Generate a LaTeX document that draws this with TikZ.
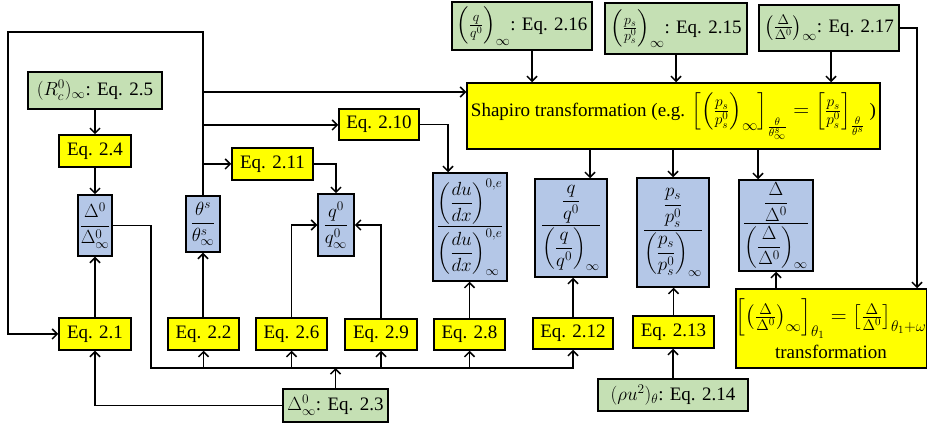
\RequirePackage{fix-cm}
\documentclass[tikz,border=0pt]{standalone}
\usepackage{amsmath}
\usepackage{fontspec}
\setmainfont{Liberation Serif}
\usetikzlibrary{arrows.meta}
\definecolor{grn}{RGB}{197,224,180}
\definecolor{blu}{RGB}{180,199,231}
\definecolor{yel}{RGB}{255,255,0}
% larger math for the inline fractions
\newcommand{\bigmath}[1]{{\fontsize{22}{24}\selectfont$#1$}}
\newcommand{\midmath}[1]{{\fontsize{20}{22}\selectfont$#1$}}
\begin{document}
\begin{tikzpicture}[x=1pt,y=-1pt,
  box/.style={draw=black, line width=1.5pt, inner sep=0pt, align=center,
              font=\fontsize{19}{21}\selectfont},
  grnbox/.style={box, fill=grn},
  yelbox/.style={box, fill=yel},
  blubox/.style={box, fill=blu},
  conn/.style={line width=1.5pt, -{Straight Barb[length=5pt,width=10pt]}}]
\useasboundingbox (0,0) rectangle (927,427);

% input boxes (green)
\node[grnbox, minimum width=134pt, minimum height=37pt] (rc) at (95,90.5) {$(R_c^0)_\infty$: Eq. 2.5};
\node[grnbox, minimum width=140pt, minimum height=48pt] (qinf) at (522,26) {\midmath{\left(\frac{q}{q^0}\right)_{\infty}}: Eq. 2.16};
\node[grnbox, minimum width=142pt, minimum height=51pt] (psinf) at (676,28.5) {\midmath{\left(\frac{p_s}{p_s^0}\right)_{\infty}}: Eq. 2.15};
\node[grnbox, minimum width=140pt, minimum height=46pt] (dinfb) at (829,28) {\midmath{\left(\frac{\Delta}{\Delta^0}\right)_{\infty}}: Eq. 2.17};
\node[grnbox, minimum width=105pt, minimum height=33pt] (dinf) at (335.5,405.5) {$\Delta^0_\infty$: Eq. 2.3};
\node[grnbox, minimum width=150pt, minimum height=32pt] (rho) at (673,395) {$(\rho u^2)_\theta$: Eq. 2.14};

% equation boxes (yellow)
\node[yelbox, minimum width=72pt, minimum height=32pt] (e24) at (95,151) {Eq. 2.4};
\node[yelbox, minimum width=81pt, minimum height=32pt] (e211) at (272.5,164) {Eq. 2.11};
\node[yelbox, minimum width=80pt, minimum height=31pt] (e210) at (379,124.5) {Eq. 2.10};
\node[yelbox, minimum width=72pt, minimum height=32pt] (e21) at (95,334) {Eq. 2.1};
\node[yelbox, minimum width=71pt, minimum height=32pt] (e22) at (203.5,334) {Eq. 2.2};
\node[yelbox, minimum width=71pt, minimum height=32pt] (e26) at (291.5,334) {Eq. 2.6};
\node[yelbox, minimum width=72pt, minimum height=31pt] (e29) at (381,334.5) {Eq. 2.9};
\node[yelbox, minimum width=71pt, minimum height=31pt] (e28) at (469.5,334.5) {Eq. 2.8};
\node[yelbox, minimum width=80pt, minimum height=31pt] (e212) at (573,333.5) {Eq. 2.12};
\node[yelbox, minimum width=81pt, minimum height=32pt] (e213) at (673.5,332) {Eq. 2.13};
\node[yelbox, minimum width=413pt, minimum height=66pt] (sh) at (673.5,116)
  {Shapiro transformation (e.g. \bigmath{\left[\left(\frac{p_s}{p_s^0}\right)_{\infty}\right]_{\frac{\theta}{\theta^s_\infty}} = \left[\frac{p_s}{p_s^0}\right]_{\frac{\theta}{\theta^s}}} )};
\node[yelbox, minimum width=190pt, minimum height=79pt] (tr) at (831,328.5)
  {\bigmath{\left[\left(\frac{\Delta}{\Delta^0}\right)_{\infty}\right]_{\theta_1} = \left[\frac{\Delta}{\Delta^0}\right]_{\theta_1+\omega}}\\[5pt] transformation};

% normalised quantities (blue)
\node[blubox, minimum width=34pt, minimum height=61pt] (d0) at (95,225.5) {$\dfrac{\Delta^0}{\Delta^0_\infty}$};
\node[blubox, minimum width=34pt, minimum height=56pt] (ts) at (203,224) {$\dfrac{\theta^s}{\theta^s_\infty}$};
\node[blubox, minimum width=36pt, minimum height=62pt] (q0) at (336,225) {$\dfrac{q^0}{q^0_\infty}$};
\node[blubox, minimum width=74pt, minimum height=108pt] (du) at (470,227)
  {$\dfrac{\left(\dfrac{du}{dx}\right)^{0,e}}{\left(\dfrac{du}{dx}\right)^{0,e}_{\infty}}$};
\node[blubox, minimum width=72pt, minimum height=98pt] (qq) at (571,228)
  {$\dfrac{\dfrac{q}{q^0}}{\left(\dfrac{q}{q^0}\right)_{\infty}}$};
\node[blubox, minimum width=72pt, minimum height=109pt] (ps) at (673,232.5)
  {$\dfrac{\dfrac{p_s}{p_s^0}}{\left(\dfrac{p_s}{p_s^0}\right)_{\infty}}$};
\node[blubox, minimum width=74pt, minimum height=91pt] (dd) at (776,225.5)
  {$\dfrac{\dfrac{\Delta}{\Delta^0}}{\left(\dfrac{\Delta}{\Delta^0}\right)_{\infty}}$};

% junction points
\coordinate (lp) at (8,32);
\coordinate (j1) at (203,92);
\coordinate (j2) at (203,125);
\coordinate (j3) at (203,164);
\coordinate (busL) at (151,368);

% left column
\draw[conn] (rc.south) -- (e24.north);
\draw[conn] (e24.south) -- (d0.north);
\draw[conn] (e21.north) -- (d0.south);
\draw[conn] (e22.north -| ts.south) -- (ts.south);
\draw[conn] (ts.north) |- (lp) |- (e21.west);
\draw[conn] (j1) -- (j1 -| sh.west);
\draw[conn] (j2) -- (j2 -| e210.west);
\draw[conn] (j3) -- (j3 -| e211.west);

% middle
\draw[conn] (e211.east) -| (q0.north);
\draw[conn] (e210.east) -| ([xshift=-22pt]du.north);
\draw[conn] (e26.north) |- (q0.west);
\draw[conn] (e29.north) |- (q0.east);
\draw[conn] (e28.north) -- (e28.north |- du.south);
\draw[conn] (e212.north) -- (e212.north |- qq.south);
\draw[conn] (e213.north) -- (e213.north |- ps.south);
\draw[conn] (rho.north) -- (rho.north |- e213.south);

% bus from the first ratio
\draw[conn] (d0.east) -| (busL) -| (e212.south);
\draw[conn] (e22.south |- busL) -- (e22.south);
\draw[conn] (e26.south |- busL) -- (e26.south);
\draw[conn] (e29.south |- busL) -- (e29.south);
\draw[conn] (e28.south |- busL) -- (e28.south);
\draw[conn] (dinf.north) -- (dinf.north |- busL);
\draw[conn] (dinf.west) -| (e21.south);

% Shapiro transformation inputs and outputs
\draw[conn] ([xshift=10pt]qinf.south) -- ([xshift=10pt]qinf.south |- sh.north);
\draw[conn] (psinf.south) -- (psinf.south |- sh.north);
\draw[conn] ([xshift=2pt]dinfb.south) -- ([xshift=2pt]dinfb.south |- sh.north);
\draw[conn] ([xshift=19pt]qq.north |- sh.south) -- ([xshift=19pt]qq.north);
\draw[conn] (ps.north |- sh.south) -- (ps.north);
\draw[conn] ([xshift=-18pt]dd.north |- sh.south) -- ([xshift=-18pt]dd.north);

% right column
\draw[conn] (dd.south |- tr.north) -- (dd.south);
\draw[conn] (dinfb.east) -| ([xshift=86pt]tr.north);
\end{tikzpicture}
\end{document}
